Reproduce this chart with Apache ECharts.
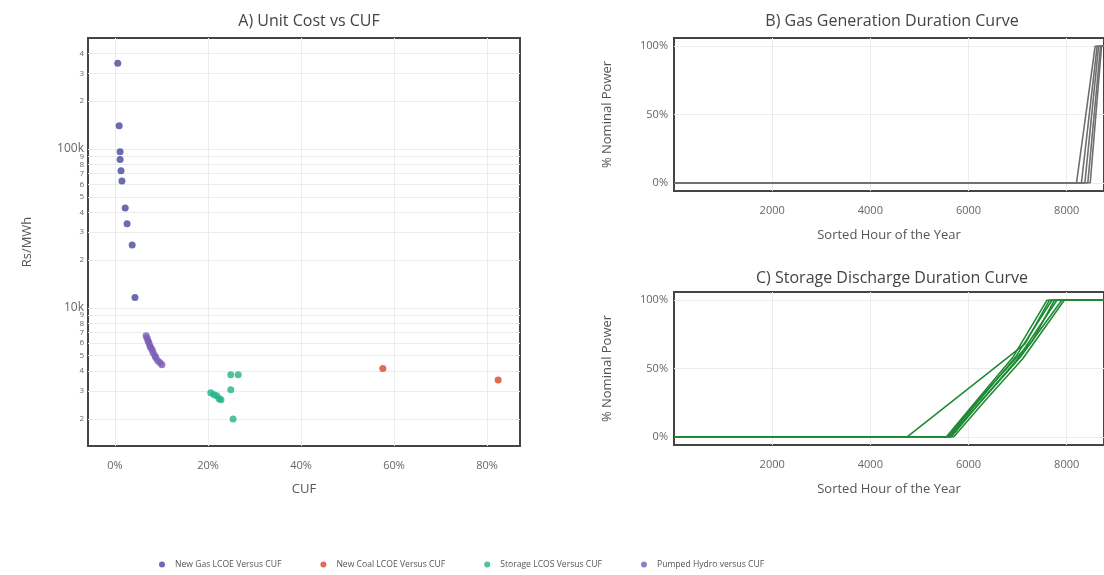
<!DOCTYPE html>
<html><head><meta charset="utf-8">
<script src="https://cdn.jsdelivr.net/npm/echarts@6/dist/echarts.min.js"></script>
<style>html,body{margin:0;padding:0;background:#fff}#c{width:1104px;height:575px}</style>
</head><body><div id="c"></div>
<script>
// ---- Panel A data (CUF in %, cost in Rs/MWh) ----
const gasCUF = [0.6, 0.9, 1.1, 1.1, 1.3, 1.5, 2.2, 2.6, 3.7, 4.3];
const gasCost = [347000, 140000, 96000, 86000, 73000, 63000, 42500, 33800, 24900, 11600];
const coalCUF = [57.6, 82.4];
const coalCost = [4150, 3520];
const storageCUF = [24.9, 26.5, 24.9, 20.6, 21.3, 21.9, 22.4, 22.8, 25.4];
const storageCost = [3790, 3790, 3050, 2920, 2840, 2800, 2680, 2640, 2000];
const hydroCUF = [6.7, 6.9, 7.1, 7.3, 7.5, 7.7, 8.0, 8.2, 8.6, 8.8, 9.2, 9.7, 10.1];
const hydroCost = [6670, 6470, 6200, 6020, 5770, 5600, 5440, 5210, 4990, 4850, 4650, 4510, 4380];

const cufTicks = [0, 20, 40, 60, 80];
const costTicks = [2000, 3000, 4000, 5000, 6000, 7000, 8000, 9000, 10000,
  20000, 30000, 40000, 50000, 60000, 70000, 80000, 90000, 100000, 200000, 300000, 400000];
const hourTicks = [2000, 4000, 6000, 8000];
const powerTicks = [0, 50, 100];

// ---- Panel B: gas generation duration curves (hour, % power) ----
const gas1Hours = [0, 8200, 8580, 8760]; const gas1Power = [0, 0, 100, 100];
const gas2Hours = [0, 8300, 8620, 8760]; const gas2Power = [0, 0, 100, 100];
const gas3Hours = [0, 8370, 8650, 8760]; const gas3Power = [0, 0, 100, 100];
const gas4Hours = [0, 8430, 8690, 8760]; const gas4Power = [0, 0, 100, 100];
const gas5Hours = [0, 8480, 8710, 8760]; const gas5Power = [0, 0, 100, 100];

// ---- Panel C: storage discharge duration curves ----
const st1Hours = [0, 5550, 6200, 6900, 7600, 8760]; const st1Power = [0, 0, 28, 58, 100, 100];
const st2Hours = [0, 5600, 6250, 6950, 7700, 8760]; const st2Power = [0, 0, 28, 58, 100, 100];
const st3Hours = [0, 5650, 6300, 7000, 7800, 8760]; const st3Power = [0, 0, 28, 57, 100, 100];
const st4Hours = [0, 5620, 6280, 7050, 7900, 8760]; const st4Power = [0, 0, 27, 58, 100, 100];
const st5Hours = [0, 5700, 6350, 7100, 7950, 8760]; const st5Power = [0, 0, 27, 57, 100, 100];
const st6Hours = [0, 5580, 6220, 6950, 7300, 7750, 8760]; const st6Power = [0, 0, 28, 57, 70, 100, 100];
const st7Hours = [0, 4750, 7150, 7650, 8760]; const st7Power = [0, 0, 68, 100, 100];

const zip = (a, b) => a.map((v, i) => [v, b[i]]);
const FONT = 'Open Sans';
const axisTxt = '#666';
const gridLine = {show: true, lineStyle: {color: '#ececec', width: 1}};

const gasCurves = [[gas1Hours, gas1Power], [gas2Hours, gas2Power], [gas3Hours, gas3Power], [gas4Hours, gas4Power], [gas5Hours, gas5Power]];
const stCurves = [[st1Hours, st1Power], [st2Hours, st2Power], [st3Hours, st3Power], [st4Hours, st4Power], [st5Hours, st5Power], [st6Hours, st6Power], [st7Hours, st7Power]];

const scatterBase = {type: 'scatter', xAxisIndex: 0, yAxisIndex: 0, symbolSize: 7};
const series = [
  Object.assign({}, scatterBase, {name: 'New Gas LCOE Versus CUF', data: zip(gasCUF, gasCost), itemStyle: {color: '#45479b'}}),
  Object.assign({}, scatterBase, {name: 'New Coal LCOE Versus CUF', data: zip(coalCUF, coalCost), itemStyle: {color: '#d9452c'}}),
  Object.assign({}, scatterBase, {name: 'Storage LCOS Versus CUF', data: zip(storageCUF, storageCost), itemStyle: {color: '#22b387'}}),
  Object.assign({}, scatterBase, {name: 'Pumped Hydro versus CUF', data: zip(hydroCUF, hydroCost), itemStyle: {color: '#7a5cb6'}})
];
gasCurves.forEach(c => series.push({type: 'line', xAxisIndex: 1, yAxisIndex: 1, data: zip(c[0], c[1]), showSymbol: false, lineStyle: {color: '#6f6f6f', width: 1.6}, silent: true}));
stCurves.forEach(c => series.push({type: 'line', xAxisIndex: 2, yAxisIndex: 2, data: zip(c[0], c[1]), showSymbol: false, lineStyle: {color: '#1f8a34', width: 1.6}, silent: true}));

const titleStyle = {fontSize: 16, fontWeight: 'normal', color: '#444', fontFamily: FONT};
const nameStyle = {fontSize: 13, color: '#555', fontFamily: FONT};
const labStyle = {color: axisTxt, fontSize: 11, fontFamily: FONT};

const hourAxis = (idx) => ({
  type: 'value', gridIndex: idx, min: 0, max: 8760,
  name: 'Sorted Hour of the Year', nameLocation: 'middle', nameGap: 38, nameTextStyle: nameStyle,
  axisLine: {show: false}, axisTick: {show: false, customValues: hourTicks},
  axisLabel: Object.assign({customValues: hourTicks, margin: 14, formatter: v => String(v)}, labStyle),
  splitLine: gridLine
});
const powerAxis = (idx) => ({
  type: 'value', gridIndex: idx, min: -6, max: 106,
  name: '% Nominal Power', nameLocation: 'middle', nameGap: 60, nameTextStyle: nameStyle,
  axisLine: {show: false}, axisTick: {show: false, customValues: powerTicks},
  axisLabel: Object.assign({customValues: powerTicks, margin: 6, formatter: v => v + '%'}, labStyle),
  splitLine: gridLine
});

const option = {
  animation: false,
  backgroundColor: '#fff',
  textStyle: {fontFamily: FONT},
  title: [
    {text: 'A) Unit Cost vs CUF', left: 304, top: 8, textAlign: 'center', textStyle: titleStyle},
    {text: 'B) Gas Generation Duration Curve', left: 887, top: 8, textAlign: 'center', textStyle: titleStyle},
    {text: 'C) Storage Discharge Duration Curve', left: 887, top: 265, textAlign: 'center', textStyle: titleStyle}
  ],
  legend: {
    data: ['New Gas LCOE Versus CUF', 'New Coal LCOE Versus CUF', 'Storage LCOS Versus CUF', 'Pumped Hydro versus CUF'],
    left: 154, top: 555, icon: 'circle', itemWidth: 6, itemHeight: 6, itemGap: 39,
    textStyle: {color: '#555', fontSize: 8.6, fontFamily: FONT, padding: [0, 0, 0, 5]}
  },
  grid: [
    {left: 88, top: 38, width: 432, height: 408, show: true, borderColor: '#444', borderWidth: 2, containLabel: false},
    {left: 674, top: 38, width: 431, height: 153, show: true, borderColor: '#444', borderWidth: 2, containLabel: false},
    {left: 674, top: 292, width: 431, height: 153, show: true, borderColor: '#444', borderWidth: 2, containLabel: false}
  ],
  xAxis: [
    {
      type: 'value', gridIndex: 0, min: -5.8, max: 87.1,
      name: 'CUF', nameLocation: 'middle', nameGap: 37, nameTextStyle: nameStyle,
      axisLine: {show: false}, axisTick: {show: false, customValues: cufTicks},
      axisLabel: Object.assign({customValues: cufTicks, margin: 14, formatter: v => v + '%'}, labStyle),
      splitLine: gridLine
    },
    hourAxis(1), hourAxis(2)
  ],
  yAxis: [
    {
      type: 'log', logBase: 10, gridIndex: 0, min: 1350, max: 500000,
      name: 'Rs/MWh', nameLocation: 'middle', nameGap: 54, nameTextStyle: nameStyle,
      axisLine: {show: false}, axisTick: {show: false, customValues: costTicks},
      axisLabel: {
        customValues: costTicks, margin: 4, color: axisTxt, fontFamily: FONT,
        formatter: v => {
          if (Math.abs(v - 10000) < 1) return '{big|10k}';
          if (Math.abs(v - 100000) < 1) return '{big|100k}';
          return '{small|' + String(Math.round(v)).charAt(0) + '}';
        },
        rich: {big: {fontSize: 12, color: axisTxt, fontFamily: FONT}, small: {fontSize: 8, color: axisTxt, fontFamily: FONT}}
      },
      splitLine: gridLine
    },
    powerAxis(1), powerAxis(2)
  ],
  series: series
};
const chart = echarts.init(document.getElementById('c'), null, {renderer: 'canvas'});
chart.setOption(option);
</script>
</body></html>
